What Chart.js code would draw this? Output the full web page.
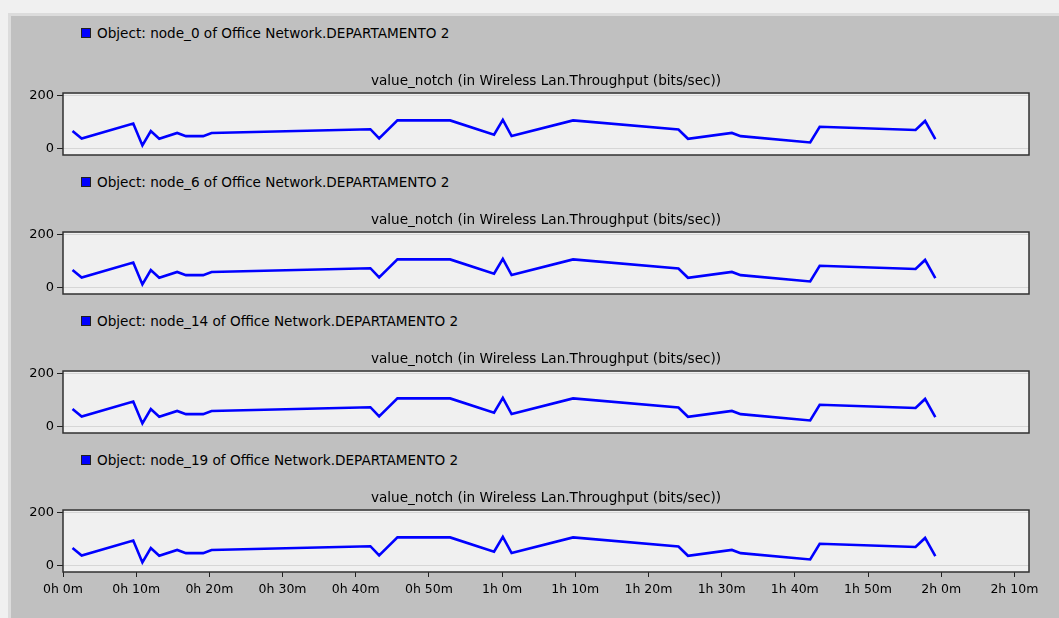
<!DOCTYPE html>
<html>
<head>
<meta charset="utf-8">
<title>Wireless Lan Throughput - DEPARTAMENTO 2</title>
<script src="https://cdn.jsdelivr.net/npm/chart.js@4/dist/chart.umd.min.js"></script>
<style>
    html, body { margin: 0; padding: 0; }
    body {
        width: 1059px;
        height: 618px;
        position: relative;
        overflow: hidden;
        background: #f0f0f0;
        font-family: "DejaVu Sans", Arial, sans-serif;
    }
    #sheet {
        position: absolute;
        left: 8px;
        top: 13px;
        right: 0;
        bottom: 0;
        background: #c0c0c0;
        border-left: 3px solid #dcdcdc;
        border-top: 3px solid #dcdcdc;
    }
    .legend {
        position: absolute;
        left: 81px;
        height: 16px;
        display: flex;
        align-items: center;
        font-size: 13.6px;
        color: #000;
        white-space: nowrap;
    }
    .legend .box {
        width: 8px;
        height: 8px;
        background: #0000ff;
        border: 1px solid #202020;
        margin-right: 6px;
    }
    canvas { position: absolute; left: 0; }
</style>
</head>
<body>
<div id="sheet"></div>

<script>
// Sample times (minutes) - START
const sampleMinutes = [
    1.3, 2.55, 9.6, 10.85, 12.0, 13.15, 15.6, 16.8, 19.15, 20.3,
    42.0, 43.2, 45.7, 52.9, 58.9, 60.1, 61.3, 69.7, 84.1, 85.4,
    91.4, 92.6, 102.1, 103.4, 116.5, 117.8, 119.2
];
// Sample times (minutes) - END

// throughput (bits/sec), same trace on every node
const throughput = [
    65, 37, 93, 11, 65, 36, 58, 46, 46, 58,
    72, 37, 105, 105, 51, 107, 46, 105, 71, 36,
    58, 46, 22, 81, 69, 103, 35
];

const nodeNames = ['node_0', 'node_6', 'node_14', 'node_19'];
const xTickLabels = [
    '0h 0m', '0h 10m', '0h 20m', '0h 30m', '0h 40m', '0h 50m', '1h 0m',
    '1h 10m', '1h 20m', '1h 30m', '1h 40m', '1h 50m', '2h 0m', '2h 10m'
];
const yTickValues = [0, 200];

const STAT_TITLE = 'value_notch (in Wireless Lan.Throughput (bits/sec))';

// panel layout (px)
const frameTops = [93, 232, 371, 510];
const legendMids = [33, 181.5, 320.5, 459.5];
const FRAME_H = 62;
const TITLE_H = 24;
const XAXIS_H = 36;
const SPARE_H = 14;   // room under the frame for the "0" label on panels without x axis

Chart.defaults.font.family = '"DejaVu Sans", Arial, sans-serif';
Chart.defaults.font.size = 13;
Chart.defaults.color = '#000';

// light plot background + dark frame around the chart area
const framePlugin = {
    id: 'plotFrame',
    beforeDraw(chart) {
        let a = chart.chartArea;
        let ctx = chart.ctx;
        ctx.save();
        ctx.fillStyle = '#f0f0f0';
        ctx.fillRect(a.left, a.top, a.right - a.left, a.bottom - a.top);
        ctx.restore();
    },
    afterDraw(chart) {
        let a = chart.chartArea;
        let ctx = chart.ctx;
        ctx.save();
        ctx.strokeStyle = '#303030';
        ctx.lineWidth = 1.5;
        ctx.strokeRect(a.left, a.top, a.right - a.left, a.bottom - a.top);
        ctx.restore();
    }
};

let buildPanel = (nodeName, idx) => {
    let isLast = idx === nodeNames.length - 1;

    let legend = document.createElement('div');
    legend.className = 'legend';
    legend.style.top = (legendMids[idx] - 8) + 'px';
    let box = document.createElement('span');
    box.className = 'box';
    legend.appendChild(box);
    legend.appendChild(document.createTextNode('Object: ' + nodeName + ' of Office Network.DEPARTAMENTO 2'));
    document.body.appendChild(legend);

    let bottomRoom = isLast ? XAXIS_H : SPARE_H;
    let canvas = document.createElement('canvas');
    canvas.width = 1059;
    canvas.height = TITLE_H + FRAME_H + bottomRoom;
    canvas.style.top = (frameTops[idx] - TITLE_H) + 'px';
    document.body.appendChild(canvas);

    let data = {
        datasets: [{
            label: nodeName,
            data: sampleMinutes.map((m, i) => ({ x: m, y: throughput[i] })),
            borderColor: '#0000ff',
            borderWidth: 2.6,
            pointRadius: 0,
            tension: 0,
            fill: false
        }]
    };

    let config = {
        type: 'line',
        data: data,
        options: {
            responsive: false,
            animation: false,
            devicePixelRatio: 1,
            layout: {
                padding: { left: 0, right: 30, top: 0, bottom: isLast ? 0 : SPARE_H }
            },
            plugins: {
                legend: { display: false },
                tooltip: { enabled: false },
                title: {
                    display: true,
                    text: STAT_TITLE,
                    fullSize: false,
                    color: '#000',
                    font: { size: 13.6, weight: 'normal', lineHeight: 1.2 },
                    padding: { top: 4.5, bottom: 3.2 }
                }
            },
            scales: {
                x: {
                    type: 'linear',
                    min: 0,
                    max: 132,
                    display: isLast,
                    afterBuildTicks: (scale) => {
                        scale.ticks = xTickLabels.map((_, i) => ({ value: i * 10 }));
                    },
                    afterFit: (scale) => {
                        scale.height = isLast ? XAXIS_H : 0;
                    },
                    ticks: {
                        padding: 5,
                        maxRotation: 0,
                        autoSkip: false,
                        font: { size: 12.5 },
                        callback: (value, index) => xTickLabels[index]
                    },
                    grid: {
                        drawOnChartArea: false,
                        tickLength: 5,
                        tickColor: '#202020'
                    },
                    border: { display: false }
                },
                y: {
                    min: -25,
                    max: 208,
                    afterBuildTicks: (scale) => {
                        scale.ticks = yTickValues.map((v) => ({ value: v }));
                    },
                    afterFit: (scale) => {
                        scale.width = 63;
                    },
                    ticks: {
                        padding: 3,
                        callback: (value) => String(value)
                    },
                    grid: {
                        color: '#d6d6d6',
                        lineWidth: 1,
                        tickLength: 6,
                        tickColor: '#202020'
                    },
                    border: { display: false }
                }
            }
        },
        plugins: [framePlugin]
    };
    return new Chart(canvas, config);
};

nodeNames.forEach(buildPanel);
</script>
</body>
</html>
